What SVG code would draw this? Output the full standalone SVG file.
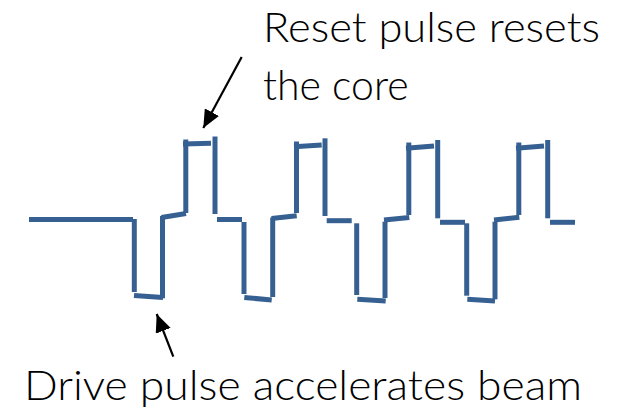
<svg xmlns="http://www.w3.org/2000/svg" width="623" height="409" viewBox="0 0 623 409">
  <style>
    .wave line { stroke: #376092; stroke-width: 5; stroke-linecap: butt; fill: none; }
    .lbl { font-family: Lato, "Open Sans", "Liberation Sans", sans-serif; font-weight: 300; font-size: 41px; fill: #000000; }
    .arrow { stroke: #000000; stroke-width: 2.2; fill: none; }
  </style>
  <defs>
    <marker id="head" markerUnits="userSpaceOnUse" markerWidth="20" markerHeight="16" refX="18" refY="8" orient="auto">
      <path d="M0,0 L18,8 L0,16 Z" fill="#000000"/>
    </marker>
  </defs>
  <rect width="623" height="409" fill="#ffffff"/>
  <g id="waveform" class="wave">
    <line x1="29" y1="219.5" x2="133" y2="219.5"/>
    <line x1="134.3" y1="219" x2="134.3" y2="292"/>
    <line x1="134" y1="295.5" x2="163" y2="297.5"/>
    <line x1="162.5" y1="298.3" x2="162.5" y2="216"/>
    <line x1="161.5" y1="217.5" x2="186" y2="213.5"/>
    <line x1="185.8" y1="213" x2="185.8" y2="139.5"/>
    <line x1="183" y1="144" x2="211" y2="143.2"/>
    <line x1="215" y1="136.5" x2="215" y2="214"/>
    <line x1="217" y1="219.5" x2="242" y2="219.5"/>
    <line x1="244" y1="222" x2="244" y2="294"/>
    <line x1="244.3" y1="297.5" x2="271.7" y2="300"/>
    <line x1="272.7" y1="297" x2="272.7" y2="217.5"/>
    <line x1="271.5" y1="218.5" x2="296.7" y2="215.7"/>
    <line x1="296.5" y1="213" x2="296.5" y2="141.5"/>
    <line x1="294" y1="146.7" x2="321.7" y2="145"/>
    <line x1="325" y1="138.3" x2="325" y2="216"/>
    <line x1="326.7" y1="220.7" x2="351.7" y2="220.7"/>
    <line x1="356.7" y1="223.3" x2="356.7" y2="295"/>
    <line x1="357.3" y1="299.3" x2="385.7" y2="301"/>
    <line x1="385" y1="298" x2="385" y2="221.7"/>
    <line x1="384" y1="220" x2="409.3" y2="217.5"/>
    <line x1="408.8" y1="215" x2="408.8" y2="142.5"/>
    <line x1="406" y1="148.3" x2="434" y2="146"/>
    <line x1="437.7" y1="140" x2="437.7" y2="218.3"/>
    <line x1="440" y1="222.3" x2="465" y2="222.3"/>
    <line x1="466.7" y1="223.3" x2="466.7" y2="295.7"/>
    <line x1="467.3" y1="299.3" x2="495" y2="301"/>
    <line x1="495" y1="299.3" x2="495" y2="221.7"/>
    <line x1="494" y1="220" x2="519.3" y2="217.3"/>
    <line x1="518.8" y1="215" x2="518.8" y2="142.5"/>
    <line x1="516" y1="148.3" x2="544" y2="146"/>
    <line x1="547.7" y1="140" x2="547.7" y2="218.3"/>
    <line x1="550" y1="222.3" x2="575" y2="222.3"/>
  </g>
  <g id="reset-label">
    <text class="lbl" x="263" y="41.5" textLength="337" lengthAdjust="spacingAndGlyphs">Reset pulse resets</text>
    <text class="lbl" x="263" y="100">the core</text>
  </g>
  <g id="drive-label">
    <text class="lbl" x="24" y="400" textLength="558" lengthAdjust="spacingAndGlyphs">Drive pulse accelerates beam</text>
  </g>
  <g id="connectors">
    <line class="arrow" x1="241.7" y1="57" x2="203.3" y2="128" marker-end="url(#head)"/>
    <line class="arrow" x1="173.3" y1="356.7" x2="156.7" y2="314" marker-end="url(#head)"/>
  </g>
</svg>
